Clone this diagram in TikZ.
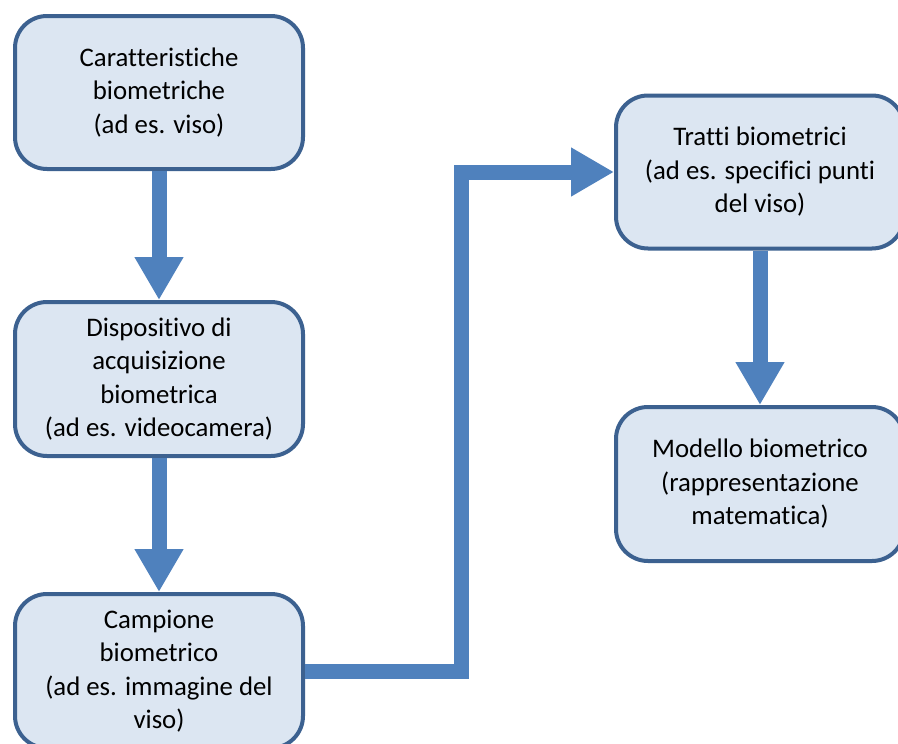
\documentclass[tikz,border=0pt]{standalone}
\usepackage{fontspec}
\setmainfont{Carlito}[Ligatures={NoCommon}]
\usetikzlibrary{arrows.meta}
\definecolor{boxfill}{HTML}{DCE6F2}
\definecolor{boxline}{HTML}{3C6190}
\definecolor{arrowcol}{HTML}{4F81BD}
\begin{document}
\begin{tikzpicture}[x=1pt,y=-1pt,
  stepbox/.style={draw=boxline, fill=boxfill, line width=4pt, rounded corners=32pt,
    minimum width=288pt, minimum height=153pt, align=center, inner sep=0pt,
    font=\fontsize{26.8pt}{33.5pt}\selectfont},
  flow/.style={draw=arrowcol, line width=15pt,
    -{Triangle[width=46pt,length=43pt]}}]
\useasboundingbox (0,0) rectangle (898,744);
\clip (0,0) rectangle (898,744);
\fill[white] (0,0) rectangle (898,744);
\node[stepbox] (b1) at (159,92.5) {Caratteristiche\\biometriche\\(ad es. viso)};
\node[stepbox, minimum height=154pt] (b2) at (159,379) {Dispositivo di\\acquisizione\\biometrica\\(ad es. videocamera)};
\node[stepbox, minimum height=154pt] (b3) at (159,671) {Campione\\biometrico\\(ad es. immagine del\\viso)};
\node[stepbox] (b4) at (760,172) {Tratti biometrici\\(ad es. specifici punti\\del viso)};
\node[stepbox, minimum height=154pt] (b5) at (760,484) {Modello biometrico\\(rappresentazione\\matematica)};
\coordinate (mid) at (461,400);
\draw[flow] (b1.south) -- (b2.north);
\draw[flow] (b2.south) -- (b3.north);
\draw[flow] (b3.east) -| (mid) |- (b4.west);
\draw[flow] (b4.south) -- (b5.north);
\end{tikzpicture}
\end{document}
